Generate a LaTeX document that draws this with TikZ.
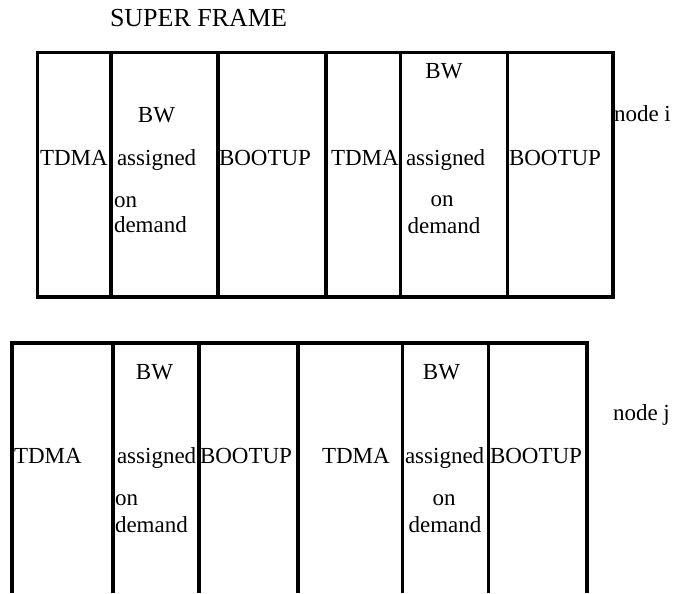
\documentclass[tikz,border=0pt]{standalone}
\usepackage{fontspec}
\setmainfont{Liberation Serif}
\begin{document}
\begin{tikzpicture}[x=0.5pt,y=-0.5pt,
  txt/.style={inner sep=0pt,outer sep=0pt,font=\fontsize{11.5}{13}\selectfont},
  lft/.style={txt,anchor=base west},
  mid/.style={txt,anchor=base},
  frameline/.style={line width=1.6pt,black}]
\useasboundingbox (0,0) rectangle (688,593);
% ---- top frame (node i)
\draw[frameline] (37.5,52.5) rectangle (613,297);
\foreach \x in {111,218,326,400.5,507.5}
  \draw[frameline] (\x,52.5) -- (\x,297);
\node[lft,font=\fontsize{13}{15}\selectfont] (title) at (110,27) {SUPER FRAME};
\node[lft] (tdmaA) at (40,165) {TDMA};
\node[mid] (bwA) at (156.5,123) {BW};
\node[lft] (asgA) at (117,165) {assigned};
\node[lft] (onA) at (114,207) {on};
\node[lft] (demA) at (114,232) {demand};
\node[lft] (bootA) at (219,165) {BOOTUP};
\node[lft] (tdmaB) at (331,165) {TDMA};
\node[mid] (bwB) at (444,79) {BW};
\node[lft] (asgB) at (406,165) {assigned};
\node[mid] (onB) at (442,206) {on};
\node[mid] (demB) at (444,233) {demand};
\node[lft] (bootB) at (509,165) {BOOTUP};
\node[lft] (nodei) at (614,122) {node i};
% ---- bottom frame (node j)
\draw[frameline] (12,593) -- (12,343) -- (587,343) -- (587,593);
\foreach \x in {113,199,298,402.5,488.5}
  \draw[frameline] (\x,343) -- (\x,593);
\node[lft] (tdmaC) at (14,463) {TDMA};
\node[mid] (bwC) at (154.5,379) {BW};
\node[lft] (asgC) at (117,463) {assigned};
\node[lft] (onC) at (115,505) {on};
\node[lft] (demC) at (115,532) {demand};
\node[lft] (bootC) at (200,463) {BOOTUP};
\node[lft] (tdmaD) at (322,463) {TDMA};
\node[mid] (bwD) at (441.5,379) {BW};
\node[lft] (asgD) at (405,463) {assigned};
\node[mid] (onD) at (444,505) {on};
\node[mid] (demD) at (445,532) {demand};
\node[lft] (bootD) at (490,463) {BOOTUP};
\node[lft] (nodej) at (613,420) {node j};
\end{tikzpicture}
\end{document}
